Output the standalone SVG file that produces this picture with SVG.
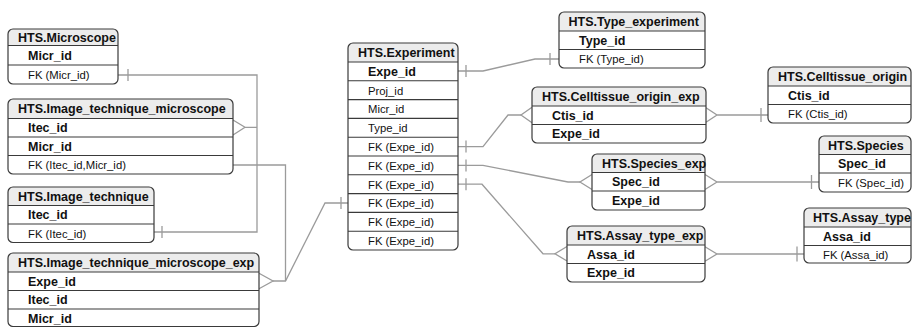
<svg xmlns="http://www.w3.org/2000/svg" width="912" height="327" viewBox="0 0 912 327">
<style>
.bg{fill:#fff}
.hd{fill:#ececec}
.ol{fill:none;stroke:#3a3a3a;stroke-width:1.2}
.sep{stroke:#3a3a3a;stroke-width:1.1}
.th{font-family:"Liberation Sans",Arial,sans-serif;font-weight:bold;font-size:12.5px;fill:#111}
.tk{font-family:"Liberation Sans",Arial,sans-serif;font-weight:bold;font-size:12.5px;fill:#111}
.tr{font-family:"Liberation Sans",Arial,sans-serif;font-size:11.3px;fill:#111}
.conn{fill:none;stroke:#9b9b9b;stroke-width:1.3}
</style>
<rect width="912" height="327" fill="#fff"/>

<g id="connectors" class="conn">
  <!-- Microscope / Image_technique -> Image_technique_microscope -->
  <path d="M118,75 H257 V232 H154"/>
  <path d="M128,69 V81 M162,226 V238"/>
  <path d="M233,120 L245,127.3 L233,135 M245,127.3 H257"/>
  <!-- ITM FK & Experiment FK -> ITM_exp -->
  <path d="M233,165 H285.5 V281"/>
  <path d="M348,203 H325 L285.5,281 H273"/>
  <path d="M341,197 V209"/>
  <path d="M259,273.3 L273,281 L259,288.7"/>
  <!-- Experiment -> Type_experiment -->
  <path d="M458,71 H483 L535,59 H559"/>
  <path d="M466,65 V77 M550,53 V65"/>
  <!-- Experiment FK -> Celltissue_origin_exp -->
  <path d="M458,146.6 H483 L508,115 H521"/>
  <path d="M466,140.6 V152.6"/>
  <path d="M532,107.3 L521,115 L532,122.7"/>
  <!-- Experiment FK -> Species_exp -->
  <path d="M458,165.4 H483 L568,182 H580"/>
  <path d="M466,159.4 V171.4"/>
  <path d="M592,174.5 L580,182 L592,189.5"/>
  <!-- Experiment FK -> Assay_type_exp -->
  <path d="M458,184.2 H482 L543,253.8 H555"/>
  <path d="M466,178.2 V190.2"/>
  <path d="M567,246.5 L555,253.8 L567,261"/>
  <!-- Celltissue_origin_exp -> Celltissue_origin -->
  <path d="M706,107.7 L717,115 L706,122.3 M717,115 H768"/>
  <path d="M761,108 V122"/>
  <!-- Species_exp -> Species -->
  <path d="M705,174.5 L717,182 L705,189.5 M717,182 H819"/>
  <path d="M811.5,175 V189"/>
  <!-- Assay_type_exp -> Assay_type -->
  <path d="M705,246.7 L717,254 L705,261.3 M717,254 H804"/>
  <path d="M797,246.5 V261.5"/>
</g>

<g id="microscope">
  <rect class="bg" x="8" y="29" width="110" height="55" rx="5"/>
  <path class="hd" d="M8,45.5 V34 Q8,29 13,29 H113 Q118,29 118,34 V45.5 Z"/>
  <rect class="ol" x="8" y="29" width="110" height="55" rx="5"/>
  <path class="sep" d="M8,45.5 H118 M8,65 H118"/>
  <text class="th" x="18" y="41.7">HTS.Microscope</text>
  <text class="tk" x="28" y="59.7">Micr_id</text>
  <text class="tr" x="28" y="78.8">FK (Micr_id)</text>
</g>

<g id="image_technique_microscope">
  <rect class="bg" x="8" y="99" width="225" height="75" rx="5"/>
  <path class="hd" d="M8,118.5 V104 Q8,99 13,99 H228 Q233,99 233,104 V118.5 Z"/>
  <rect class="ol" x="8" y="99" width="225" height="75" rx="5"/>
  <path class="sep" d="M8,118.5 H233 M8,137 H233 M8,155.5 H233"/>
  <text class="th" x="18" y="113">HTS.Image_technique_microscope</text>
  <text class="tk" x="28" y="132.2">Itec_id</text>
  <text class="tk" x="28" y="150.7">Micr_id</text>
  <text class="tr" x="28" y="169">FK (Itec_id,Micr_id)</text>
</g>

<g id="image_technique">
  <rect class="bg" x="8" y="187" width="146" height="55.5" rx="5"/>
  <path class="hd" d="M8,205.5 V192 Q8,187 13,187 H149 Q154,187 154,192 V205.5 Z"/>
  <rect class="ol" x="8" y="187" width="146" height="55.5" rx="5"/>
  <path class="sep" d="M8,205.5 H154 M8,224 H154"/>
  <text class="th" x="18" y="200.8">HTS.Image_technique</text>
  <text class="tk" x="28" y="219.2">Itec_id</text>
  <text class="tr" x="28" y="237.5">FK (Itec_id)</text>
</g>

<g id="image_technique_microscope_exp">
  <rect class="bg" x="8" y="253" width="251" height="73.5" rx="5"/>
  <path class="hd" d="M8,272 V258 Q8,253 13,253 H254 Q259,253 259,258 V272 Z"/>
  <rect class="ol" x="8" y="253" width="251" height="73.5" rx="5"/>
  <path class="sep" d="M8,272 H259 M8,290.5 H259 M8,309 H259"/>
  <text class="th" x="18" y="267">HTS.Image_technique_microscope_exp</text>
  <text class="tk" x="28" y="285.7">Expe_id</text>
  <text class="tk" x="28" y="304.2">Itec_id</text>
  <text class="tk" x="28" y="322.5">Micr_id</text>
</g>

<g id="experiment">
  <rect class="bg" x="348" y="43" width="110" height="207" rx="5"/>
  <path class="hd" d="M348,62 V48 Q348,43 353,43 H453 Q458,43 458,48 V62 Z"/>
  <rect class="ol" x="348" y="43" width="110" height="207" rx="5"/>
  <path class="sep" d="M348,62 H458 M348,80.8 H458 M348,99.6 H458 M348,118.4 H458 M348,137.2 H458 M348,156 H458 M348,174.8 H458 M348,193.6 H458 M348,212.4 H458 M348,231.2 H458"/>
  <text class="th" x="358" y="57">HTS.Experiment</text>
  <text class="tk" x="368" y="75.9">Expe_id</text>
  <text class="tr" x="368" y="94.5">Proj_id</text>
  <text class="tr" x="368" y="113.3">Micr_id</text>
  <text class="tr" x="368" y="132.1">Type_id</text>
  <text class="tr" x="368" y="150.9">FK (Expe_id)</text>
  <text class="tr" x="368" y="169.7">FK (Expe_id)</text>
  <text class="tr" x="368" y="188.5">FK (Expe_id)</text>
  <text class="tr" x="368" y="207.3">FK (Expe_id)</text>
  <text class="tr" x="368" y="226.1">FK (Expe_id)</text>
  <text class="tr" x="368" y="244.9">FK (Expe_id)</text>
</g>

<g id="type_experiment">
  <rect class="bg" x="559" y="12" width="146" height="56" rx="5"/>
  <path class="hd" d="M559,31 V17 Q559,12 564,12 H700 Q705,12 705,17 V31 Z"/>
  <rect class="ol" x="559" y="12" width="146" height="56" rx="5"/>
  <path class="sep" d="M559,31 H705 M559,49.5 H705"/>
  <text class="th" x="568.5" y="26">HTS.Type_experiment</text>
  <text class="tk" x="579" y="44.8">Type_id</text>
  <text class="tr" x="579" y="63">FK (Type_id)</text>
</g>

<g id="celltissue_origin_exp">
  <rect class="bg" x="532" y="87" width="174" height="56" rx="5"/>
  <path class="hd" d="M532,106 V92 Q532,87 537,87 H701 Q706,87 706,92 V106 Z"/>
  <rect class="ol" x="532" y="87" width="174" height="56" rx="5"/>
  <path class="sep" d="M532,106 H706 M532,124.5 H706"/>
  <text class="th" x="542" y="101">HTS.Celltissue_origin_exp</text>
  <text class="tk" x="552" y="119.8">Ctis_id</text>
  <text class="tk" x="552" y="138.3">Expe_id</text>
</g>

<g id="celltissue_origin">
  <rect class="bg" x="768" y="67" width="143" height="56" rx="5"/>
  <path class="hd" d="M768,86 V72 Q768,67 773,67 H906 Q911,67 911,72 V86 Z"/>
  <rect class="ol" x="768" y="67" width="143" height="56" rx="5"/>
  <path class="sep" d="M768,86 H911 M768,104.5 H911"/>
  <text class="th" x="778" y="81">HTS.Celltissue_origin</text>
  <text class="tk" x="788" y="99.8">Ctis_id</text>
  <text class="tr" x="788" y="118">FK (Ctis_id)</text>
</g>

<g id="species_exp">
  <rect class="bg" x="592" y="154" width="113" height="56" rx="5"/>
  <path class="hd" d="M592,172.5 V159 Q592,154 597,154 H700 Q705,154 705,159 V172.5 Z"/>
  <rect class="ol" x="592" y="154" width="113" height="56" rx="5"/>
  <path class="sep" d="M592,172.5 H705 M592,191 H705"/>
  <text class="th" x="602" y="167.8">HTS.Species_exp</text>
  <text class="tk" x="612" y="186.3">Spec_id</text>
  <text class="tk" x="612" y="205">Expe_id</text>
</g>

<g id="species">
  <rect class="bg" x="819" y="136" width="92" height="56" rx="5"/>
  <path class="hd" d="M819,154.5 V141 Q819,136 824,136 H906 Q911,136 911,141 V154.5 Z"/>
  <rect class="ol" x="819" y="136" width="92" height="56" rx="5"/>
  <path class="sep" d="M819,154.5 H911 M819,173 H911"/>
  <text class="th" x="828" y="149.8">HTS.Species</text>
  <text class="tk" x="838" y="168.3">Spec_id</text>
  <text class="tr" x="838" y="187">FK (Spec_id)</text>
</g>

<g id="assay_type_exp">
  <rect class="bg" x="567" y="226" width="138" height="56" rx="5"/>
  <path class="hd" d="M567,245 V231 Q567,226 572,226 H700 Q705,226 705,231 V245 Z"/>
  <rect class="ol" x="567" y="226" width="138" height="56" rx="5"/>
  <path class="sep" d="M567,245 H705 M567,263.5 H705"/>
  <text class="th" x="577" y="240">HTS.Assay_type_exp</text>
  <text class="tk" x="587" y="258.8">Assa_id</text>
  <text class="tk" x="587" y="277.3">Expe_id</text>
</g>

<g id="assay_type">
  <rect class="bg" x="804" y="208" width="107" height="55" rx="5"/>
  <path class="hd" d="M804,227 V213 Q804,208 809,208 H906 Q911,208 911,213 V227 Z"/>
  <rect class="ol" x="804" y="208" width="107" height="55" rx="5"/>
  <path class="sep" d="M804,227 H911 M804,245.5 H911"/>
  <text class="th" x="813" y="222">HTS.Assay_type</text>
  <text class="tk" x="823" y="240.8">Assa_id</text>
  <text class="tr" x="823" y="258.6">FK (Assa_id)</text>
</g>
</svg>
